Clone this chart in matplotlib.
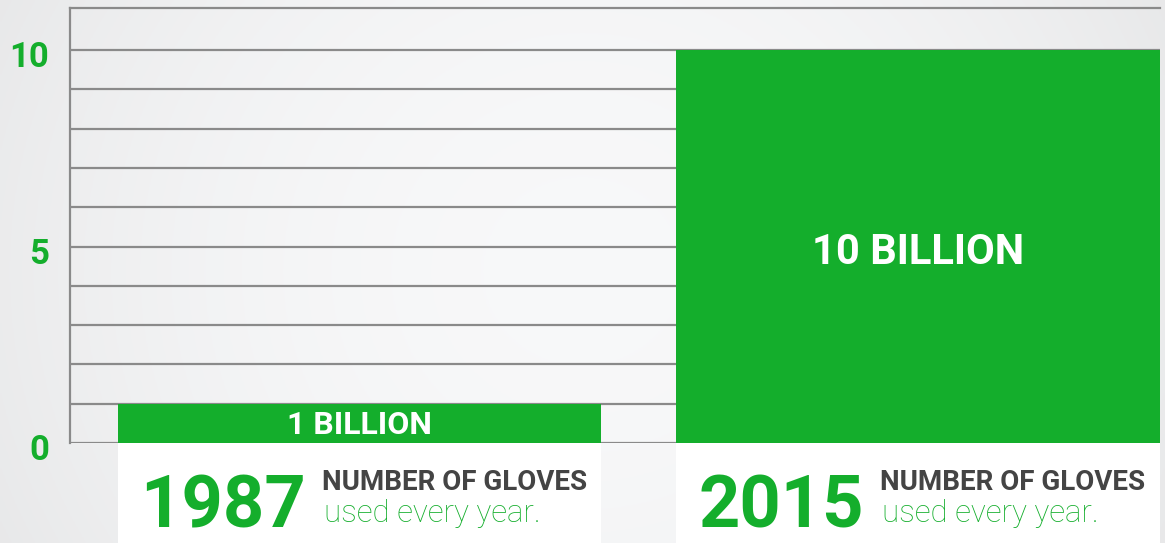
import numpy as np
import matplotlib.pyplot as plt
from matplotlib.ticker import FuncFormatter
from matplotlib.transforms import offset_copy

years = ["1987", "2015"]
gloves_billion = [1, 10]
bar_labels = ["1 BILLION", "10 BILLION"]
caption_top = "NUMBER OF GLOVES"
caption_bottom = "used every year."
y_gridlines = list(range(0, 11))

GREEN = "#14ae2c"
GRID = "#8a8a8a"
DARK = "#444444"

roboto = ["Roboto", "DejaVu Sans"]

fig = plt.figure(figsize=(11.65, 5.43), dpi=100)

# soft grey background, lighter in the middle
bg = fig.add_axes([0, 0, 1, 1], zorder=-10)
gx = np.linspace(-1, 1, 400)
gy = np.linspace(-1, 1, 200)
GX, GY = np.meshgrid(gx, gy)
shade = 0.972 - 0.05 * (GX ** 2) - 0.012 * GY ** 2
bg.imshow(np.dstack([shade, shade + 0.002, shade + 0.006]).clip(0, 1),
          aspect="auto", extent=[0, 1, 0, 1])
bg.axis("off")

W, H = 1165, 543
ax = fig.add_axes([70 / W, 100 / H, (1160 - 70) / W, 435 / H])
ax.patch.set_alpha(0)

x = np.arange(len(years))
width = 0.865
box_depth = 2.6

ax.bar(x, gloves_billion, width=width, color=GREEN, zorder=3)
ax.bar(x, box_depth, bottom=-box_depth, width=width, color="white",
       zorder=3, clip_on=False)

ax.set_xlim(-0.518, 1.433)
ax.set_ylim(0, 11.07)
ax.set_yticks(y_gridlines)
ax.yaxis.set_major_formatter(FuncFormatter(lambda v, p: f"{int(v)}" if v % 5 == 0 else ""))
ax.grid(axis="y", color=GRID, lw=1.6, zorder=0)
ax.set_axisbelow(True)
ax.tick_params(axis="y", length=0, pad=15, labelcolor=GREEN)
for lab in ax.get_yticklabels():
    lab.set_fontfamily(roboto)
    lab.set_fontweight("bold")
    lab.set_fontsize(25)
    lab.set_transform(offset_copy(lab.get_transform(), fig=fig, y=-4, units="dots"))
ax.set_xticks([])
for s in ["right", "bottom"]:
    ax.spines[s].set_visible(False)
for s in ["left", "top"]:
    ax.spines[s].set_color(GRID)
    ax.spines[s].set_linewidth(1.6)

# value labels inside the bars
ax.text(x[0], gloves_billion[0] * 0.47, bar_labels[0], color="white", ha="center",
        va="center", fontsize=23, fontweight="bold", family=roboto, zorder=4)
ax.text(x[1], gloves_billion[1] * 0.485, bar_labels[1], color="white", ha="center",
        va="center", fontsize=30, fontweight="bold", family=roboto, zorder=4)

# year + caption in the white boxes under the bars
for i, yr in enumerate(years):
    left = x[i] - width / 2
    ax.annotate(yr, (left, 0), xytext=(22, -84), textcoords="offset pixels",
                color=GREEN, fontsize=52, fontweight="bold", family=roboto,
                va="baseline", ha="left", annotation_clip=False, zorder=5)
    ax.annotate(caption_top, (left, 0), xytext=(204, -47), textcoords="offset pixels",
                color=DARK, fontsize=20, fontweight="bold", family=roboto,
                va="baseline", ha="left", annotation_clip=False, zorder=5)
    ax.annotate(caption_bottom, (left, 0), xytext=(206, -79), textcoords="offset pixels",
                color=GREEN, fontsize=22.5, fontweight="light", family=roboto,
                va="baseline", ha="left", annotation_clip=False, zorder=5)

fig.savefig("out.png", dpi=100)
